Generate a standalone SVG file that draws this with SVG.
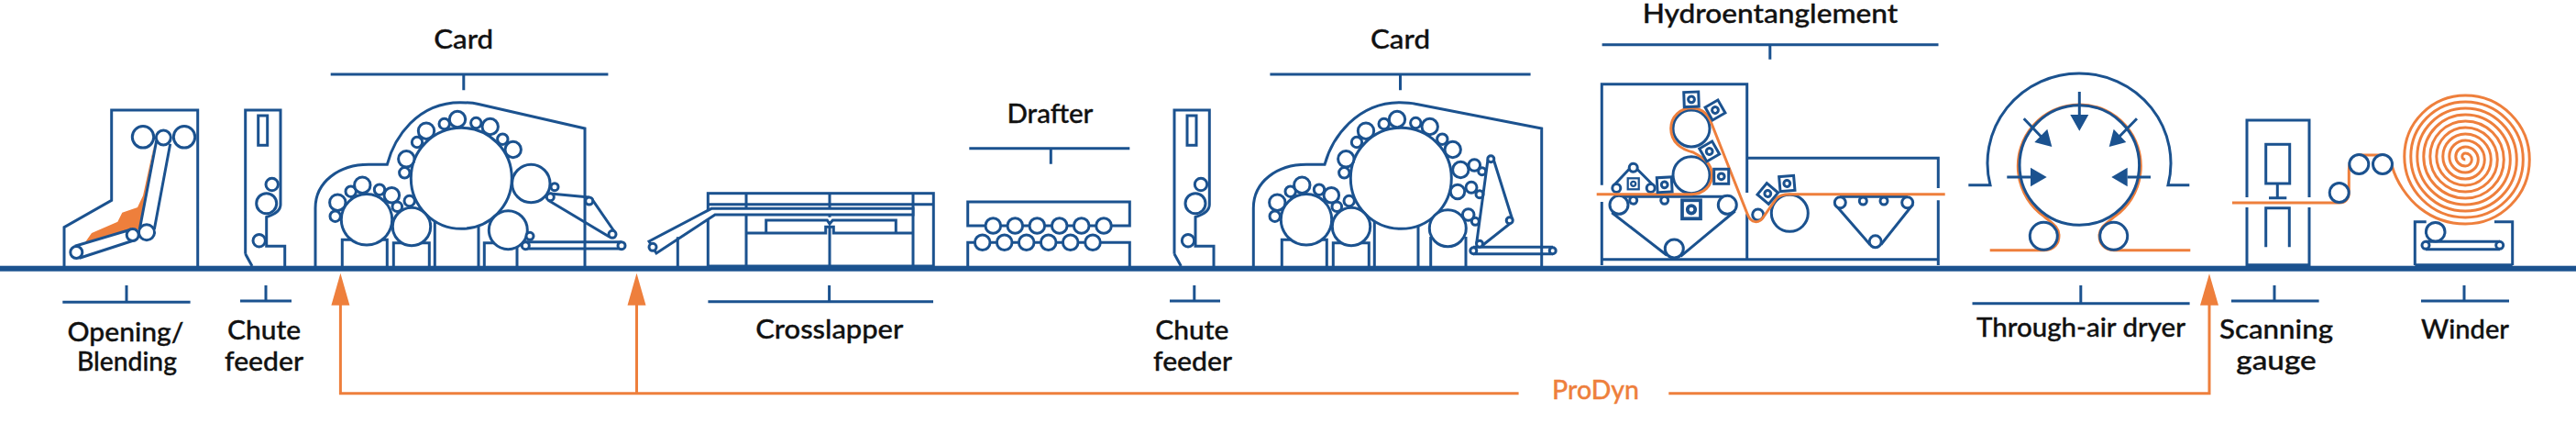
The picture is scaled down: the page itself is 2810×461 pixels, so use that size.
<svg xmlns="http://www.w3.org/2000/svg" xmlns:xlink="http://www.w3.org/1999/xlink" width="2810" height="461" viewBox="0 0 2810 461">
<style>
.b{fill:none;stroke:#1b528f;stroke-width:3}
.c{fill:#fff;stroke:#1b528f;stroke-width:3}
.o{fill:none;stroke:#ee7f3c;stroke-width:3}
.h{fill:#1b528f;stroke:none}
.oh{fill:#ee7f3c;stroke:none}
text{font-family:"Lato","Liberation Sans",sans-serif;font-size:29px;font-weight:500;fill:#111;stroke:#111;stroke-width:.35;text-anchor:middle}
</style>
<defs>
<g id="cardCore">
<path class="b" d="M373.3,290V261.3H422.3V290M429.3,290V264.7H468.3V290M474.3,240V290M522,246V290"/>
<circle class="c" cx="503.3" cy="194.3" r="55"/>
<circle class="c" cx="400" cy="239.3" r="27.7"/>
<circle class="c" cx="449" cy="247" r="20.7"/>
<circle class="c" cx="368.3" cy="220.7" r="8.7"/><circle class="c" cx="365.7" cy="235.7" r="5.7"/>
<circle class="c" cx="382.7" cy="208.7" r="5.7"/><circle class="c" cx="395.3" cy="201.7" r="8.7"/>
<circle class="c" cx="414" cy="206.7" r="5.7"/><circle class="c" cx="427.3" cy="212.7" r="8.3"/>
<circle class="c" cx="433.3" cy="225.3" r="5.3"/><circle class="c" cx="446.7" cy="219" r="5.7"/>
<circle class="c" cx="441.3" cy="188.3" r="5.7"/><circle class="c" cx="443.3" cy="173.3" r="8.7"/>
<circle class="c" cx="455" cy="155" r="5.7"/><circle class="c" cx="465" cy="142.7" r="8.7"/>
<circle class="c" cx="484.7" cy="135" r="5.7"/><circle class="c" cx="499" cy="130" r="8.7"/>
<circle class="c" cx="519.3" cy="134" r="5.7"/><circle class="c" cx="534.7" cy="138" r="8.7"/>
<circle class="c" cx="548.3" cy="151.7" r="5.7"/><circle class="c" cx="559.7" cy="163" r="8.7"/>
</g>
<g id="chute">
<path class="b" d="M267.7,276.7V120H306V223C306,228 302,233 290.7,236.5V268.3H310.7V290M267.7,276.7L275,290"/>
<rect class="b" x="281.7" y="126" width="10" height="32.3"/>
<circle class="c" cx="296.7" cy="201" r="6.7"/>
<circle class="c" cx="290.7" cy="221.7" r="11"/>
<circle class="c" cx="282.7" cy="262.3" r="6.7"/>
</g>
<g id="nozzle">
<rect class="c" x="-8" y="-8" width="16" height="16"/>
<circle class="b" r="3.4"/>
</g>
</defs>
<rect id="floor" x="0" y="289.7" width="2810" height="6" fill="#1b528f"/>

<g id="opening-blending">
<path class="b" d="M70,290V247.7L121.7,218.3V120H215.7V290"/>
<path fill="#ee7f3c" d="M91.7,265.7L100,254L128.3,241.7L133.3,231.7L150,226L156,213.3L168.3,156.7L152.3,250L140,250Z"/>
<path class="b" d="M170.7,153.3L152.3,250M185.7,156.7L168.3,250M81.7,268.3L143.3,250M86.7,281.3L146.7,261.7"/>
<circle class="c" cx="156" cy="149.3" r="11.7"/>
<circle class="c" cx="201" cy="149.3" r="11.7"/>
<circle class="c" cx="178.3" cy="150" r="8"/>
<circle class="c" cx="160" cy="253.3" r="8.5"/>
<circle class="c" cx="144.7" cy="256" r="6.5"/>
<circle class="c" cx="83.3" cy="275" r="6.5"/>
<path class="b" d="M68.3,329.3H207.6M138,311V329.3"/>
<text x="137" y="371.7" textLength="127" lengthAdjust="spacingAndGlyphs">Opening/</text>
<text x="138.4" y="404.3" textLength="109" lengthAdjust="spacingAndGlyphs">Blending</text>
</g>

<g id="chute-feeder-1">
<use xlink:href="#chute" href="#chute"/>
<path class="b" d="M262,328H318M290,311V328"/>
<text x="288" y="370.3" textLength="80" lengthAdjust="spacingAndGlyphs">Chute</text>
<text x="288" y="404.3" textLength="86" lengthAdjust="spacingAndGlyphs">feeder</text>
</g>

<g id="card-1">
<path class="b" d="M344,290V226.7C344,198 370,179.3 402,179.3H422.3C430,150 455,111.7 502,111.7C510,111.7 516,112 522,113.5L638,140V290"/>
<path class="b" d="M528.3,290V264.7H564V290"/>
<use xlink:href="#cardCore" href="#cardCore"/>
<path class="b" d="M600.3,211L642.7,215M646,217.3L671.3,254M598,218.3L665,258.3M573,263.7H678M573,271H678"/>
<circle class="c" cx="579.3" cy="200" r="20.7"/>
<circle class="c" cx="554.3" cy="250.7" r="21"/>
<circle class="c" cx="605" cy="203.7" r="4"/><circle class="c" cx="600.3" cy="214.7" r="4"/>
<circle class="c" cx="642.7" cy="219" r="4"/><circle class="c" cx="668" cy="255.3" r="4"/>
<circle class="c" cx="578" cy="257.3" r="4"/><circle class="c" cx="573.3" cy="267.7" r="4"/>
<circle class="c" cx="678" cy="267.7" r="4"/>
<path class="b" d="M360.7,81H663.4M505.8,81V98.3"/>
<text x="505.7" y="53" textLength="65" lengthAdjust="spacingAndGlyphs">Card</text>
</g>

<g id="crosslapper">
<rect class="b" x="772.3" y="210.7" width="246" height="79.3"/>
<path class="b" d="M772.3,222.7H1018.3M814,210.7V290M905,210.7V236.7M905,247.3V290M996,210.7V290"/>
<path class="c" d="M708,263L776,227.3H996V234H780L716,276Z"/>
<path class="b" d="M814,254H900.7V247.3H909.3V254H996M835.7,254V240H902.3L905,244L908.3,240H977.3V254M739.3,258.3V290"/>
<circle class="c" cx="712" cy="269.3" r="4"/>
<path class="b" d="M772.4,328.7H1018M904.6,311V328.7"/>
<text x="904.8" y="369.3" textLength="161" lengthAdjust="spacingAndGlyphs">Crosslapper</text>
</g>

<g id="drafter">
<path class="b" d="M1074,246H1055.7V220H1232.3V246H1213M1055.7,290V264.3H1072M1192,264.3H1232.3V290M1083,246H1204M1072,264.3H1192"/>
<circle class="c" cx="1083.3" cy="246" r="8.3"/><circle class="c" cx="1107.3" cy="246" r="8.3"/><circle class="c" cx="1131.3" cy="246" r="8.3"/><circle class="c" cx="1155.7" cy="246" r="8.3"/><circle class="c" cx="1179.7" cy="246" r="8.3"/><circle class="c" cx="1204" cy="246" r="8.3"/>
<circle class="c" cx="1071.7" cy="264.3" r="8.3"/><circle class="c" cx="1095.7" cy="264.3" r="8.3"/><circle class="c" cx="1119.7" cy="264.3" r="8.3"/><circle class="c" cx="1143.7" cy="264.3" r="8.3"/><circle class="c" cx="1167.7" cy="264.3" r="8.3"/><circle class="c" cx="1192" cy="264.3" r="8.3"/>
<path class="b" d="M1057.3,161.7H1232.3M1146.3,161.7V178.7"/>
<text x="1145.4" y="134.3" textLength="94" lengthAdjust="spacingAndGlyphs">Drafter</text>
</g>

<g id="chute-feeder-2">
<use xlink:href="#chute" href="#chute" x="1013.3"/>
<path class="b" d="M1276,328H1331M1302.8,311V328"/>
<text x="1300.3" y="370.3" textLength="80" lengthAdjust="spacingAndGlyphs">Chute</text>
<text x="1301" y="404.3" textLength="86" lengthAdjust="spacingAndGlyphs">feeder</text>
</g>

<g id="card-2">
<path class="b" d="M1367.3,290V226.7C1367.3,198 1393,179.3 1425,179.3H1445C1453,150 1480,111.7 1527,111.7C1533,111.7 1539,112 1544,113.3L1681.7,140V290"/>
<path class="b" d="M1560.7,290V258M1599,258V290"/>
<use xlink:href="#cardCore" href="#cardCore" x="1025"/>
<circle class="c" cx="1579.3" cy="248.7" r="20"/>
<circle class="c" cx="1593.3" cy="185" r="8.7"/><circle class="c" cx="1608.3" cy="180" r="6.3"/><circle class="c" cx="1616.7" cy="186.7" r="4"/>
<circle class="c" cx="1590" cy="209" r="7.7"/><circle class="c" cx="1605" cy="204.3" r="6"/><circle class="c" cx="1614" cy="211.7" r="4"/>
<circle class="c" cx="1601.7" cy="234" r="6.3"/><circle class="c" cx="1609.3" cy="241.3" r="4"/>
<path class="b" d="M1623,174L1610.7,265M1629.3,174L1650,240M1647.7,243.3L1616.7,267.7M1607,269.3H1694M1607,276.7H1694"/>
<circle class="c" cx="1626.3" cy="173.3" r="3.5"/><circle class="c" cx="1646.7" cy="240.3" r="3.5"/><circle class="c" cx="1614" cy="265.7" r="3.5"/>
<circle class="c" cx="1607.3" cy="273.3" r="3.5"/><circle class="c" cx="1693.7" cy="273.3" r="3.5"/>
<path class="b" d="M1385.4,81H1669.6M1527.5,81V98.3"/>
<text x="1527.5" y="53" textLength="65" lengthAdjust="spacingAndGlyphs">Card</text>
</g>

<g id="hydroentanglement">
<path class="b" d="M1747.3,201.7V91.7H1905.7V210M1905.7,233.3V282.7M1747.3,220V289M1747.3,282.7H2114.3M1905.7,172.3H2114.3V205M2114.3,218.3V289"/>
<path class="b" d="M1766.7,214.3H1885M1758.3,231.7L1818.3,278.3M1892.7,230L1833.3,279.3M2007,214.3H2081M2001.7,222.7L2040,266.7M2086.7,222.7L2051.7,266.7M1777,184.5L1759.5,203M1786,184.5L1804.5,203"/>
<circle class="c" cx="1766" cy="223.3" r="10"/><circle class="c" cx="1884.3" cy="223.3" r="10"/><circle class="c" cx="1826.3" cy="271" r="10"/>
<circle class="c" cx="1781.7" cy="218.3" r="4"/><circle class="c" cx="1815.7" cy="218.3" r="4"/>
<circle class="c" cx="1781.7" cy="182.7" r="4.5"/><circle class="c" cx="1763.3" cy="205" r="4.5"/><circle class="c" cx="1800.7" cy="205" r="4.5"/>
<circle class="c" cx="1845" cy="140" r="20"/><circle class="c" cx="1845" cy="190.7" r="20"/>
<circle class="c" cx="1917.7" cy="234" r="6"/><circle class="c" cx="1952.3" cy="232.3" r="20"/>
<circle class="c" cx="2007.3" cy="220.7" r="6"/><circle class="c" cx="2080.7" cy="220.7" r="6"/><circle class="c" cx="2045.7" cy="263.3" r="6.5"/>
<circle class="c" cx="2032.3" cy="219" r="4"/><circle class="c" cx="2055" cy="219" r="4"/>
<path class="o" d="M1741.7,211.7H1845C1859,211.7 1867.5,202 1867.5,190.7C1867.5,178 1858,172 1847,166C1834,163 1822.7,155 1822.7,140C1822.7,127 1833,117.7 1845,117.7C1855,117.7 1862,123 1866,132L1906,233C1910,244 1919,244 1924,236L1938,216C1942,212 1947,211.7 1952,211.7H2121.7"/>
<use xlink:href="#nozzle" href="#nozzle" transform="translate(1845,108.3) rotate(-2)"/>
<use xlink:href="#nozzle" href="#nozzle" transform="translate(1871,120) rotate(-30)"/>
<use xlink:href="#nozzle" href="#nozzle" transform="translate(1864.7,165) rotate(-30)"/>
<use xlink:href="#nozzle" href="#nozzle" transform="translate(1877.7,192.3)"/>
<use xlink:href="#nozzle" href="#nozzle" transform="translate(1815.7,201.3) rotate(-3)"/>
<use xlink:href="#nozzle" href="#nozzle" transform="translate(1781.7,200.3) scale(.75)"/>
<use xlink:href="#nozzle" href="#nozzle" transform="translate(1845,228.3) scale(1.25)"/>
<use xlink:href="#nozzle" href="#nozzle" transform="translate(1928.3,211) rotate(40)"/>
<use xlink:href="#nozzle" href="#nozzle" transform="translate(1949.3,200) rotate(-5)"/>
<path class="b" d="M1747.6,48.7H2114.5M1930.8,48.7V64.7"/>
<text x="1931" y="25" textLength="278.5" lengthAdjust="spacingAndGlyphs">Hydroentanglement</text>
</g>

<g id="through-air-dryer">
<path class="o" d="M2170.7,272.7H2230C2241,272.7 2246,265 2246,257C2246,247 2238,243 2230,236A67,67 0 1 1 2306.6,236C2299,243 2290,247 2290,257C2290,265 2295,272.7 2306,272.7H2389.3"/>
<circle class="b" cx="2268.3" cy="180" r="65.3"/>
<path class="b" d="M2147.3,201.7H2171A100,98 0 1 1 2365,201.7H2388.3"/>
<circle class="b" cx="2229.3" cy="257.3" r="15"/><circle class="b" cx="2305.7" cy="257.3" r="15"/>
<path class="b" d="M2268.3,100V125M2189.3,193H2215M2346,193H2320.7M2207.7,129.3L2228.3,150.7M2331,129.3L2310,150.7"/>
<path class="h" d="M2258.3,125H2278.3L2268.3,142.7ZM2215,182.7V203.3L2232.7,193ZM2320.7,182.7V203.3L2303.3,193ZM2238.3,160L2219.3,155L2233.3,140.7ZM2300.7,160L2319.3,155L2305.7,140.7Z"/>
<path class="b" d="M2151.5,330.7H2388.6M2269.8,311V330.7"/>
<text x="2270" y="366.7" textLength="228" lengthAdjust="spacingAndGlyphs">Through-air dryer</text>
</g>

<g id="scanning-gauge">
<path class="b" d="M2451,215V131H2519V215M2451,226V288.7H2519V226M2484.3,200V215.7M2475,215.7H2494.3M2471.7,269.3V226.7H2497.3V269.3"/>
<rect class="b" x="2471.7" y="157.3" width="26" height="42.7"/>
<path class="b" d="M2434,328H2529.6M2481,311V328"/>
<text x="2483" y="369.3" textLength="124" lengthAdjust="spacingAndGlyphs">Scanning</text>
<text x="2483" y="402.7" textLength="87.5" lengthAdjust="spacingAndGlyphs">gauge</text>
</g>

<g id="winder">
<path class="o" d="M2435,221H2552C2558,221 2562.3,217 2562.3,210V186C2562.3,174 2568,169 2575,169H2598C2604,169 2608,174 2609.3,181C2614,198 2626,216 2640,227C2654,238 2672,244 2689.3,244A70,70 0 0 0 2689.3,104A66.5,66.5 0 0 0 2689.3,237A63,63 0 0 0 2689.3,111A59.5,59.5 0 0 0 2689.3,230A56,56 0 0 0 2689.3,118A52.5,52.5 0 0 0 2689.3,223A49,49 0 0 0 2689.3,125A45.5,45.5 0 0 0 2689.3,216A42,42 0 0 0 2689.3,132A38.5,38.5 0 0 0 2689.3,209A35,35 0 0 0 2689.3,139A31.5,31.5 0 0 0 2689.3,202A28,28 0 0 0 2689.3,146A24.5,24.5 0 0 0 2689.3,195A21,21 0 0 0 2689.3,153A17.5,17.5 0 0 0 2689.3,188A14,14 0 0 0 2689.3,160A10.5,10.5 0 0 0 2689.3,181A7,7 0 0 0 2689.3,167A3.5,3.5 0 0 0 2689.3,174"/>
<circle class="c" cx="2551.7" cy="210" r="10.5"/><circle class="c" cx="2573.3" cy="179" r="10.5"/><circle class="c" cx="2599" cy="179" r="10.5"/>
<path class="b" d="M2634.3,289V241.7H2646.7M2721,241.7H2740.7V289M2634.3,288.7H2740.7M2646,263.3H2727M2646,271.7H2727"/>
<circle class="c" cx="2656.7" cy="252.7" r="10.3"/>
<circle class="c" cx="2646" cy="267.3" r="4"/><circle class="c" cx="2726.7" cy="267.3" r="4"/>
<path class="b" d="M2641,328H2737M2688,311V328"/>
<text x="2689" y="369.3" textLength="96" lengthAdjust="spacingAndGlyphs">Winder</text>
</g>

<g id="connectors">
<path class="o" d="M371.4,332V428.7H1656.6M694.5,332V428.7M1820.3,428.7H2410V332"/>
<path class="oh" d="M371.4,297.7L381.4,332.7H361.4ZM694.5,297.7L704.5,332.7H684.5ZM2410,298.3L2420,332.7H2400Z"/>
</g>
<g id="prodyn">
<text x="1740.5" y="435" textLength="95" lengthAdjust="spacingAndGlyphs" style="fill:#ee7f3c;stroke:#ee7f3c">ProDyn</text>
</g>
</svg>
